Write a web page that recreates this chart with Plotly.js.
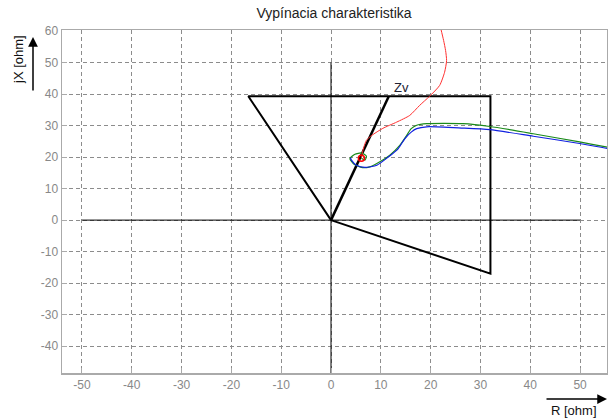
<!DOCTYPE html>
<html><head><meta charset="utf-8">
<script src="https://cdn.plot.ly/plotly-3.0.1.min.js"></script>
<style>body{margin:0;background:#fff}#c{width:608px;height:418px}</style>
</head><body><div id="c"></div>
<script>
// Characteristic polygon (R, X)
const polyR = [0, 32, 32, -16.6, 0];
const polyX = [0, -17, 39.3, 39.3, 0];
// Zv line
const zvR = [0, 11.6];
const zvX = [0, 39.3];
// Axis cross lines
const hAxR = [-50, 50];
const hAxX = [0, 0];
const vAxR = [0, 0];
const vAxX = [-50, 50];
// Red trajectory
const redR = [22.0, 22.6, 23.0, 23.2, 22.8, 21.8, 19.8, 17.8, 15.8, 13.2, 10.4, 8.2, 7.1, 6.6, 6.1, 6.1];
const redX = [61, 57, 53.8, 50.6, 46.9, 42.7, 39.3, 36.4, 33.2, 31.1, 29.1, 26.9, 25.3, 23.2, 20.0, 19.6];
// Green trajectory
const greenR = [58, 55.2, 49.9, 40.6, 31.9, 26.5, 19.2, 17.2, 16.1, 15.2, 13.8, 11.8, 9.8, 7.8, 6.1, 4.5, 3.8, 4.8, 6.1, 7.1, 6.8, 6.1];
const greenX = [22.2, 23.2, 24.8, 27.4, 29.7, 30.6, 30.6, 30.1, 29.0, 26.9, 23.7, 20.6, 18.5, 16.9, 16.7, 17.9, 19.5, 20.9, 21.3, 20.3, 19.0, 19.6];
// Blue trajectory
const blueR = [58, 55.2, 49.9, 40.6, 31.9, 26.5, 19.2, 17.2, 16.1, 14.8, 13.5, 11.5, 9.2, 6.8, 5.1, 4.1, 3.9];
const blueX = [21.8, 22.8, 24.3, 26.6, 28.7, 29.2, 29.6, 29.0, 27.9, 25.8, 22.7, 20.0, 17.4, 16.7, 17.4, 19.0, 19.8];
const xTicks = [-50, -40, -30, -20, -10, 0, 10, 20, 30, 40, 50];
const yTicks = [-40, -30, -20, -10, 0, 10, 20, 30, 40, 50, 60];

const traces = [
  {x: hAxR, y: hAxX, mode: 'lines', line: {color: '#000', width: 1}},
  {x: vAxR, y: vAxX, mode: 'lines', line: {color: '#000', width: 1}},
  {x: polyR, y: polyX, mode: 'lines', line: {color: '#000', width: 2}},
  {x: zvR, y: zvX, mode: 'lines', line: {color: '#000', width: 2.5}},
  {x: greenR, y: greenX, mode: 'lines', line: {color: '#1a8a1a', width: 1.2, shape: 'spline', smoothing: 0.6}},
  {x: blueR, y: blueX, mode: 'lines', line: {color: '#1020e0', width: 1.2, shape: 'spline', smoothing: 0.6}},
  {x: redR, y: redX, mode: 'lines', line: {color: '#ff3030', width: 1, shape: 'spline', smoothing: 0.6}},
  {x: [redR[redR.length-1]], y: [redX[redX.length-1]], mode: 'markers',
   marker: {color: 'rgba(0,0,0,0)', size: 6, line: {color: '#ff0000', width: 1.5}}}
];
const FONT = 'Liberation Sans, Arial, sans-serif';
const axBase = {
  showgrid: true, gridcolor: '#8c8c8c', griddash: '4px,3px', gridwidth: 1,
  zeroline: false, showline: true, mirror: true, linecolor: '#aaa', linewidth: 1.5,
  ticks: 'inside', ticklen: 5, tickcolor: '#aaa',
  tickfont: {family: FONT, size: 12, color: '#888'}
};
const L = 62, R = 1, T = 30, B = 45, W = 608, H = 418;
const pw = W - L - R, ph = H - T - B;
const px = v => (v - L) / pw;
const py = v => (H - B - v) / ph;
const layout = {
  width: W, height: H,
  margin: {l: L, r: R, t: T, b: B},
  paper_bgcolor: '#fff', plot_bgcolor: '#fff',
  showlegend: false,
  title: {text: 'Vypínacia charakteristika', x: px(334) * pw / W + L / W, xanchor: 'center', y: 1 - 13 / H, yanchor: 'middle',
          font: {family: FONT, size: 14, color: '#222'}},
  xaxis: Object.assign({}, axBase, {range: [-54, 55.4], tickvals: xTicks, ticktext: xTicks.map(String)}),
  yaxis: Object.assign({}, axBase, {range: [-48.5, 60.3], tickvals: yTicks, ticktext: yTicks.map(String)}),
  annotations: [
    {x: 14.2, y: 42.2, xref: 'x', yref: 'y', text: 'Zv', showarrow: false, xanchor: 'center', yanchor: 'middle',
     font: {family: FONT, size: 13, color: '#223'}},
    {x: px(19), y: py(60), xref: 'paper', yref: 'paper', xanchor: 'center', yanchor: 'middle',
     text: 'jX [ohm]', textangle: -90, showarrow: false,
     font: {family: FONT, size: 13, color: '#111'}},
    {x: px(574), y: py(410), xref: 'paper', yref: 'paper', xanchor: 'center', yanchor: 'middle',
     text: 'R [ohm]', showarrow: false,
     font: {family: FONT, size: 13, color: '#111'}},
    {xref: 'paper', yref: 'paper', x: px(33), y: py(37), ax: 0, ay: 55,
     showarrow: true, arrowhead: 2, arrowsize: 1.3, arrowwidth: 1.5, arrowcolor: '#000', text: ''},
    {xref: 'paper', yref: 'paper', x: px(607), y: py(399), ax: -62, ay: 0,
     showarrow: true, arrowhead: 2, arrowsize: 1.3, arrowwidth: 1.5, arrowcolor: '#000', text: ''}
  ]
};
Plotly.newPlot('c', traces, layout, {staticPlot: true});
</script></body></html>
